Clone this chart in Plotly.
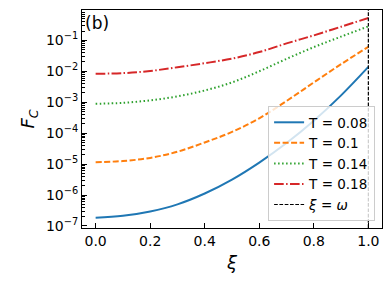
import plotly.graph_objects as go

xi = [0.0, 0.1, 0.2, 0.3, 0.4, 0.5, 0.6, 0.7, 0.8, 0.9, 1.0]

# log10(F_C) values
logF_008 = [-6.73, -6.67, -6.53, -6.30, -5.95, -5.50, -4.95, -4.32, -3.60, -2.78, -1.86]
logF_010 = [-4.94, -4.90, -4.80, -4.60, -4.30, -3.96, -3.52, -2.96, -2.36, -1.77, -1.21]
logF_014 = [-3.05, -3.02, -2.94, -2.81, -2.62, -2.36, -2.00, -1.60, -1.22, -0.88, -0.55]
logF_018 = [-2.08, -2.06, -1.99, -1.87, -1.74, -1.59, -1.38, -1.10, -0.84, -0.56, -0.28]

series = [
    ("T = 0.08", logF_008, "#1f77b4", "solid"),
    ("T = 0.1", logF_010, "#ff7f0e", "6px,2.5px"),
    ("T = 0.14", logF_014, "#2ca02c", "1.5px,2.5px"),
    ("T = 0.18", logF_018, "#d62728", "9.6px,2.4px,1.5px,2.4px"),
]

OMEGA = 1.0
x_ticks = [0.0, 0.2, 0.4, 0.6, 0.8, 1.0]
y_exps = [-7, -6, -5, -4, -3, -2, -1]

fig = go.Figure()
for i, (name, lv, col, dash) in enumerate(series):
    fig.add_trace(go.Scatter(
        x=xi, y=[10 ** v for v in lv], mode="lines", name=name,
        line=dict(color=col, width=2, dash=dash, shape="spline"),
    ))

fig.add_shape(type="line", x0=OMEGA, x1=OMEGA, y0=0, y1=1, xref="x", yref="paper",
              line=dict(color="black", width=1.2, dash="3.7px,1.6px"),
              showlegend=True, name="<i>ξ</i> = <i>ω</i>")

font = "DejaVu Sans"
# the page body adds an 8px offset, so the figure is sized to fit the window
fig.update_layout(
    width=383, height=278,
    margin=dict(l=74, r=9, t=2, b=58, autoexpand=False),
    paper_bgcolor="white", plot_bgcolor="white",
    font=dict(family=font, size=14, color="black"),
    showlegend=True,
    legend=dict(x=0.977, y=0.032, xanchor="right", yanchor="bottom",
                bgcolor="rgba(255,255,255,0.8)", bordercolor="#cccccc", borderwidth=1,
                font=dict(size=13.5), itemwidth=30, tracegroupgap=0),
    xaxis=dict(
        range=[-0.05, 1.05], tickvals=x_ticks, ticktext=[f"{v:.1f}" for v in x_ticks],
        ticks="inside", ticklen=5, tickcolor="black", showline=True, linecolor="black",
        linewidth=1, mirror=True, showgrid=False, zeroline=False, automargin=False,
        title=dict(text="<i>ξ</i>", font=dict(size=18), standoff=8),
    ),
    yaxis=dict(
        type="log", range=[-7.065, -0.02],
        tickvals=[10 ** e for e in y_exps],
        ticktext=[f"10<sup>−{-e}</sup>" for e in y_exps],
        ticks="inside", ticklen=5, tickcolor="black", showline=True, linecolor="black",
        linewidth=1, mirror=True, showgrid=False, zeroline=False, automargin=False,
        minor=dict(ticks="inside", ticklen=2.5, tickcolor="black", dtick="D1", showgrid=False),
        title=dict(text="<i>F</i><sub><i>C</i></sub>", font=dict(size=18), standoff=6),
    ),
    annotations=[dict(text="(b)", x=0.003, y=0.995, xref="paper", yref="paper",
                      xanchor="left", yanchor="top", showarrow=False,
                      font=dict(size=17))],
)

fig.write_html("out.html")
